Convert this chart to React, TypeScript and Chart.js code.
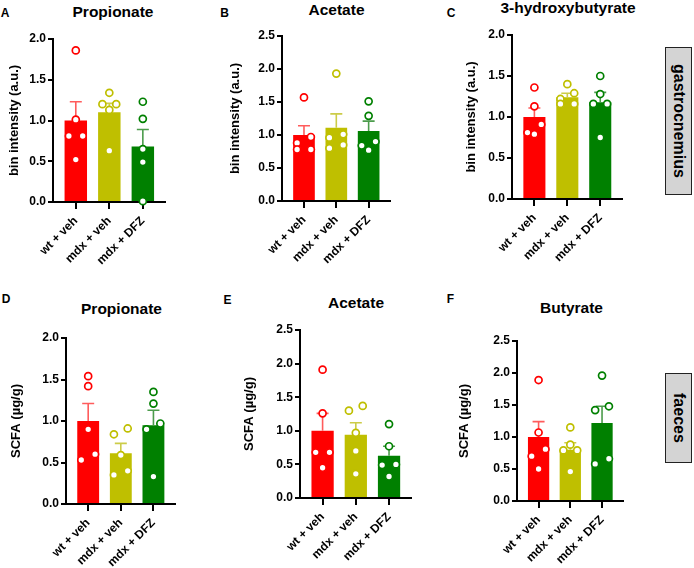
import React, { useEffect, useRef } from "react";
import { Chart, registerables } from "chart.js";
Chart.register(...registerables);

// ---------- data ----------
const groups = ["wt + veh", "mdx + veh", "mdx + DFZ"];
const ticksTo2 = [0, 0.5, 1.0, 1.5, 2.0];
const ticksTo25 = [0, 0.5, 1.0, 1.5, 2.0, 2.5];

// A – gastrocnemius, Propionate
const aWt = [1.86, 1.01, 0.81, 0.81, 0.52];
const aMdx = [1.34, 1.2, 1.2, 1.13, 0.63];
const aDfz = [1.23, 1.02, 0.65, 0.49, 0.01];
const aMean = [1.0, 1.1, 0.68];
const aSem = [0.23, 0.11, 0.21];

// B – gastrocnemius, Acetate
const bWt = [1.57, 0.97, 0.88, 0.78, 0.78];
const bMdx = [1.93, 1.01, 0.96, 0.85, 0.8];
const bDfz = [1.51, 1.29, 0.9, 0.84, 0.77];
const bMean = [1.0, 1.11, 1.06];
const bSem = [0.14, 0.21, 0.15];

// C – gastrocnemius, 3-hydroxybutyrate
const cWt = [1.36, 1.13, 0.91, 0.81, 0.79];
const cMdx = [1.4, 1.29, 1.22, 1.16, 1.16];
const cDfz = [1.5, 1.28, 1.16, 1.16, 0.75];
const cMean = [1.0, 1.24, 1.18];
const cSem = [0.11, 0.05, 0.12];

// D – faeces, Propionate
const dWt = [1.54, 1.42, 0.9, 0.6, 0.53];
const dMdx = [0.91, 0.84, 0.59, 0.4, 0.35];
const dDfz = [1.35, 1.21, 0.97, 0.9, 0.33];
const dMean = [1.0, 0.61, 0.95];
const dSem = [0.21, 0.12, 0.18];

// E – faeces, Acetate
const eWt = [1.91, 1.26, 0.68, 0.68, 0.45];
const eMdx = [1.37, 1.3, 0.97, 0.7, 0.36];
const eDfz = [1.1, 0.77, 0.5, 0.49, 0.32];
const eMean = [1.0, 0.94, 0.63];
const eSem = [0.26, 0.18, 0.14];

// F – faeces, Butyrate
const fWt = [1.89, 1.07, 0.81, 0.7, 0.5];
const fMdx = [1.15, 0.88, 0.79, 0.79, 0.46];
const fDfz = [1.96, 1.48, 1.42, 0.66, 0.58];
const fMean = [1.0, 0.8, 1.22];
const fSem = [0.24, 0.11, 0.26];

// ---------- styles ----------
const FONT = "'Liberation Sans', Arial, Helvetica, sans-serif";
const barColors = ["#ff0000", "#bfbf00", "#008000"];
const errColors = ["#ff5c5c", "#cccc48", "#4c9c4c"];
const X_MIN = -0.68;
const X_MAX = 2.67;
const PAD_TOP = 10;
const PAD_RIGHT = 4;
const X_H = 72;

type Layout = { L: number; R: number; top: number; bottom: number; titleCX: number; head: [number, number]; letter: [number, number] };
type Spec = {
  letter: string; title: string; yTitle: string; yMax: number; yTicks: number[];
  values: number[][]; mean: number[]; sem: number[]; lay: Layout;
};

const specs: Spec[] = [
  { letter: "A", title: "Propionate", yTitle: "bin intensity (a.u.)", yMax: 2, yTicks: ticksTo2,
    values: [aWt, aMdx, aDfz], mean: aMean, sem: aSem,
    lay: { L: 53, R: 167, top: 39, bottom: 202, titleCX: 15, head: [113, 12], letter: [5, 12.5] } },
  { letter: "B", title: "Acetate", yTitle: "bin intensity (a.u.)", yMax: 2.5, yTicks: ticksTo25,
    values: [bWt, bMdx, bDfz], mean: bMean, sem: bSem,
    lay: { L: 282, R: 392, top: 36, bottom: 201, titleCX: 236, head: [336.5, 10], letter: [224.5, 12.5] } },
  { letter: "C", title: "3-hydroxybutyrate", yTitle: "bin intensity (a.u.)", yMax: 2, yTicks: ticksTo2,
    values: [cWt, cMdx, cDfz], mean: cMean, sem: cSem,
    lay: { L: 512, R: 624, top: 35, bottom: 199, titleCX: 472, head: [568, 8], letter: [451, 12.5] } },
  { letter: "D", title: "Propionate", yTitle: "SCFA (\u00b5g/g)", yMax: 2, yTicks: ticksTo2,
    values: [dWt, dMdx, dDfz], mean: dMean, sem: dSem,
    lay: { L: 66, R: 177, top: 338, bottom: 504, titleCX: 17, head: [121.5, 309], letter: [6, 299] } },
  { letter: "E", title: "Acetate", yTitle: "SCFA (\u00b5g/g)", yMax: 2.5, yTicks: ticksTo25,
    values: [eWt, eMdx, eDfz], mean: eMean, sem: eSem,
    lay: { L: 300, R: 413, top: 330, bottom: 498, titleCX: 250, head: [356, 302.5], letter: [227.5, 299.5] } },
  { letter: "F", title: "Butyrate", yTitle: "SCFA (\u00b5g/g)", yMax: 2.5, yTicks: ticksTo25,
    values: [fWt, fMdx, fDfz], mean: fMean, sem: fSem,
    lay: { L: 517, R: 625, top: 341, bottom: 501, titleCX: 465, head: [571.5, 307.5], letter: [450.5, 299] } },
];

// spread overlapping points of one group sideways (dot-plot style)
function spread(vals: number[], pxPerUnit: number, step: number): number[] {
  const thr = 9 / pxPerUnit;
  const idx = vals.map((v, i) => i).sort((a, b) => vals[b] - vals[a]);
  const offs = new Array(vals.length).fill(0);
  let row: number[] = [];
  const flush = () => {
    if (row.length === 2) {
      offs[row[0]] = step; offs[row[1]] = -step;
    } else if (row.length === 3) {
      let best = 0, bestD = -1;
      row.forEach((r, k) => {
        const d = Math.min(...row.filter((_, j) => j !== k).map((o) => Math.abs(vals[o] - vals[r])));
        if (d > bestD) { bestD = d; best = k; }
      });
      const rest = row.filter((_, k) => k !== best);
      offs[row[best]] = 0; offs[rest[0]] = step; offs[rest[1]] = -step;
    } else if (row.length > 3) {
      row.forEach((r, k) => { offs[r] = (k - (row.length - 1) / 2) * step; });
    }
    row = [];
  };
  idx.forEach((i) => {
    if (row.length && vals[row[0]] - vals[i] > thr) flush();
    row.push(i);
  });
  flush();
  return offs;
}

function Panel({ spec }: { spec: Spec }) {
  const ref = useRef<HTMLCanvasElement>(null);
  const lay = spec.lay;
  const cl = lay.titleCX - 15;
  const ct = lay.top - PAD_TOP;
  const w = lay.R - cl + PAD_RIGHT;
  const h = PAD_TOP + (lay.bottom - lay.top) + X_H;

  useEffect(() => {
    const pxPerUnit = (lay.bottom - lay.top) / spec.yMax;
    const step = 7 / ((lay.R - lay.L) / (X_MAX - X_MIN));
    const pts: { x: number; y: number }[] = [];
    const ptColors: string[] = [];
    spec.values.forEach((vals, g) => {
      const offs = spread(vals, pxPerUnit, step);
      vals.forEach((v, k) => {
        pts.push({ x: g + offs[k], y: v });
        ptColors.push(barColors[g]);
      });
    });

    const errorBars = {
      id: "errorBars",
      afterDatasetDraw(chart: any, args: any) {
        if (args.index !== 0) return;
        const { ctx } = chart;
        const xs = chart.scales.x;
        const ys = chart.scales.y;
        ctx.save();
        spec.mean.forEach((m, i) => {
          const x = xs.getPixelForValue(i);
          const y0 = ys.getPixelForValue(m);
          const y1 = ys.getPixelForValue(m + spec.sem[i]);
          ctx.strokeStyle = errColors[i];
          ctx.lineWidth = 1.6;
          ctx.beginPath();
          ctx.moveTo(x, y0);
          ctx.lineTo(x, y1);
          ctx.moveTo(x - 6, y1);
          ctx.lineTo(x + 6, y1);
          ctx.stroke();
        });
        ctx.restore();
      },
    };

    const chart = new Chart(ref.current as HTMLCanvasElement, {
      type: "bar",
      data: {
        datasets: [
          {
            type: "bar",
            data: spec.mean.map((m, i) => ({ x: i, y: m })),
            backgroundColor: barColors,
            borderWidth: 0,
            barPercentage: 0.67,
            categoryPercentage: 1,
            order: 2,
          } as any,
          {
            type: "scatter",
            data: pts,
            pointBackgroundColor: "#ffffff",
            pointBorderColor: ptColors,
            pointBorderWidth: 1.7,
            pointRadius: 3.5,
            clip: false,
            order: 1,
          } as any,
        ],
      },
      options: {
        responsive: false,
        animation: false,
        events: [],
        layout: { padding: { top: PAD_TOP, right: PAD_RIGHT, left: 0, bottom: 0 } },
        plugins: { legend: { display: false }, tooltip: { enabled: false }, title: { display: false } },
        scales: {
          x: {
            type: "linear",
            min: X_MIN,
            max: X_MAX,
            offset: false,
            afterBuildTicks: (s: any) => { s.ticks = groups.map((_, i) => ({ value: i })); },
            afterFit: (s: any) => { s.height = X_H; },
            grid: { offset: false, drawOnChartArea: false, drawTicks: true, tickLength: 7, color: "#000", lineWidth: 2 },
            border: { display: true, color: "#000", width: 2 },
            ticks: {
              autoSkip: false,
              maxRotation: 45,
              minRotation: 45,
              padding: 5,
              color: "#000",
              font: { family: FONT, size: 12, weight: "bold" },
              callback: (v: any) => groups[v as number],
            },
          },
          y: {
            type: "linear",
            min: 0,
            max: spec.yMax,
            afterBuildTicks: (s: any) => { s.ticks = spec.yTicks.map((v) => ({ value: v })); },
            afterFit: (s: any) => { s.width = lay.L - cl; },
            grid: { drawOnChartArea: false, drawTicks: true, tickLength: 5, color: "#000", lineWidth: 2 },
            border: { display: true, color: "#000", width: 2 },
            ticks: {
              padding: 2,
              color: "#000",
              font: { family: FONT, size: 12, weight: "bold" },
              callback: (v: any) => Number(v).toFixed(1),
            },
            title: {
              display: true,
              text: spec.yTitle,
              color: "#000",
              font: { family: FONT, size: 13, weight: "bold" },
              padding: { top: 7, bottom: 0 },
            },
          },
        },
      },
      plugins: [errorBars],
    } as any);
    return () => chart.destroy();
  }, []);

  return (
    <>
      <canvas ref={ref} width={w} height={h} style={{ position: "absolute", left: cl, top: ct, width: w, height: h }} />
      <div style={{ position: "absolute", left: lay.head[0], top: lay.head[1], transform: "translate(-50%,-50%)", font: `bold 15.5px ${FONT}`, lineHeight: "1", whiteSpace: "nowrap", color: "#000" }}>
        {spec.title}
      </div>
      <div style={{ position: "absolute", left: lay.letter[0], top: lay.letter[1], transform: "translate(-50%,-50%)", font: `bold 12px ${FONT}`, lineHeight: "1", color: "#000" }}>
        {spec.letter}
      </div>
    </>
  );
}

function SideBox({ text, top, height }: { text: string; top: number; height: number }) {
  return (
    <div style={{ position: "absolute", left: 665, top, width: 27, height, boxSizing: "border-box", background: "#d4d4d4", border: "1.5px solid #222", display: "flex", alignItems: "center", justifyContent: "center" }}>
      <span style={{ writingMode: "vertical-rl", font: `bold 16px ${FONT}`, color: "#000", lineHeight: "1" }}>{text}</span>
    </div>
  );
}

export default function App() {
  return (
    <div style={{ position: "absolute", left: 0, top: 0, width: 694, height: 568, background: "#fff", overflow: "hidden" }}>
      {specs.map((s) => (
        <Panel key={s.letter} spec={s} />
      ))}
      <SideBox text="gastrocnemius" top={47} height={148} />
      <SideBox text="faeces" top={373} height={90} />
    </div>
  );
}
